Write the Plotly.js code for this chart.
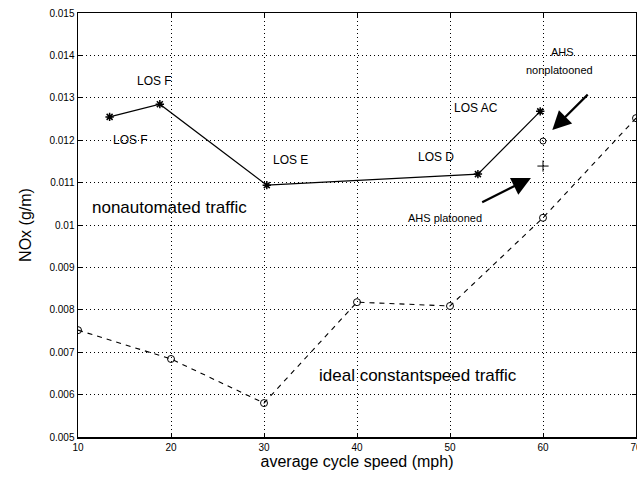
<!DOCTYPE html>
<html>
<head>
<meta charset="utf-8">
<script src="https://cdn.plot.ly/plotly-3.0.1.min.js"></script>
<style>html,body{margin:0;padding:0;background:#fff;}#chart{width:637px;height:484px;}</style>
</head>
<body>
<div id="chart"></div>
<script>
// Nonautomated traffic (LOS F, F, E, D, AC)
const nonautoSpeed = [13.4, 18.8, 30.3, 53.0, 59.7];
const nonautoNOx = [0.01255, 0.01285, 0.01094, 0.01120, 0.01268];

// Ideal constant-speed traffic
const idealSpeed = [10, 20, 30, 40, 50, 60, 70];
const idealNOx = [0.00752, 0.00684, 0.00580, 0.00818, 0.00809, 0.01017, 0.01252];

// AHS points
const ahsNonplatoonedSpeed = [60];
const ahsNonplatoonedNOx = [0.01198];
const ahsPlatoonedSpeed = [60];
const ahsPlatoonedNOx = [0.01139];

const xTicks = [10, 20, 30, 40, 50, 60, 70];
const yTicks = [0.005, 0.006, 0.007, 0.008, 0.009, 0.01, 0.011, 0.012, 0.013, 0.014, 0.015];

const FONT = 'Liberation Sans, Arial, sans-serif';

const traces = [
  {x: nonautoSpeed, y: nonautoNOx, mode: 'lines+markers', type: 'scatter',
   line: {color: '#000', width: 1.2},
   marker: {symbol: 'asterisk-open', size: 7, color: '#000', line: {color: '#000', width: 1.5}}},
  {x: idealSpeed, y: idealNOx, mode: 'lines+markers', type: 'scatter',
   line: {color: '#000', width: 1.1, dash: '5px,5px'},
   marker: {symbol: 'circle-open', size: 7, color: '#000', line: {color: '#000', width: 1}}},
  {x: ahsNonplatoonedSpeed, y: ahsNonplatoonedNOx, mode: 'markers', type: 'scatter',
   marker: {symbol: 'circle-open', size: 6, color: '#000', line: {color: '#000', width: 1}}},
  {x: ahsPlatoonedSpeed, y: ahsPlatoonedNOx, mode: 'markers', type: 'scatter',
   marker: {symbol: 'cross-thin-open', size: 8, color: '#000', line: {color: '#000', width: 1}}}
];

function txt(x, y, text, size, xanchor) {
  return {x: x, y: y, xref: 'x', yref: 'y', text: text, showarrow: false,
    xanchor: xanchor || 'center', yanchor: 'middle',
    font: {family: FONT, size: size, color: '#000'}};
}
function arrow(x, y, ax, ay) {
  return {x: x, y: y, ax: ax, ay: ay, xref: 'x', yref: 'y', axref: 'x', ayref: 'y',
    text: '', showarrow: true, arrowhead: 2, arrowsize: 1.7, arrowwidth: 2.2, arrowcolor: '#000'};
}

const layout = {
  width: 637, height: 484,
  margin: {l: 78, r: 1, t: 13, b: 47},
  paper_bgcolor: '#fff', plot_bgcolor: '#fff',
  showlegend: false,
  font: {family: FONT, color: '#000'},
  xaxis: {
    range: [10, 70], tickvals: xTicks, ticktext: xTicks.map(String),
    ticks: 'inside', ticklen: 4, tickcolor: '#000', mirror: 'ticks',
    showline: true, linecolor: '#000', linewidth: 1.5,
    showgrid: true, gridcolor: '#000', griddash: '1px,3px', gridwidth: 1,
    zeroline: false, ticklabeloverflow: 'allow',
    tickfont: {family: FONT, size: 10, color: '#000'},
    title: {text: 'average cycle speed (mph)', font: {family: FONT, size: 16, color: '#000'}, standoff: 4}
  },
  yaxis: {
    range: [0.005, 0.015], tickvals: yTicks, ticktext: yTicks.map(v => String(v)),
    ticks: 'inside', ticklen: 4, tickcolor: '#000', mirror: 'ticks',
    showline: true, linecolor: '#000', linewidth: 1.5,
    showgrid: true, gridcolor: '#000', griddash: '1px,3px', gridwidth: 1,
    zeroline: false, ticklabeloverflow: 'allow',
    tickfont: {family: FONT, size: 10, color: '#000'},
    title: {text: 'NOx (g/m)', font: {family: FONT, size: 16, color: '#000'}, standoff: 14}
  },
  annotations: [
    txt(18.2, 0.0134, 'LOS F', 12),
    txt(15.6, 0.0120, 'LOS F', 12),
    txt(32.9, 0.01153, 'LOS E', 12),
    txt(48.5, 0.01160, 'LOS D', 12),
    txt(52.8, 0.01276, 'LOS AC', 12),
    txt(62.1, 0.01408, 'AHS', 11),
    txt(61.8, 0.01366, 'nonplatooned', 11),
    txt(49.5, 0.01016, 'AHS platooned', 11),
    txt(11.3, 0.01042, 'nonautomated traffic', 17, 'left'),
    txt(35.7, 0.00644, 'ideal constantspeed traffic', 17, 'left'),
    arrow(61.0, 0.01224, 64.97, 0.01311),
    arrow(58.7, 0.01111, 53.3, 0.01052)
  ]
};

Plotly.newPlot('chart', traces, layout, {staticPlot: true, displayModeBar: false});
</script>
</body>
</html>
